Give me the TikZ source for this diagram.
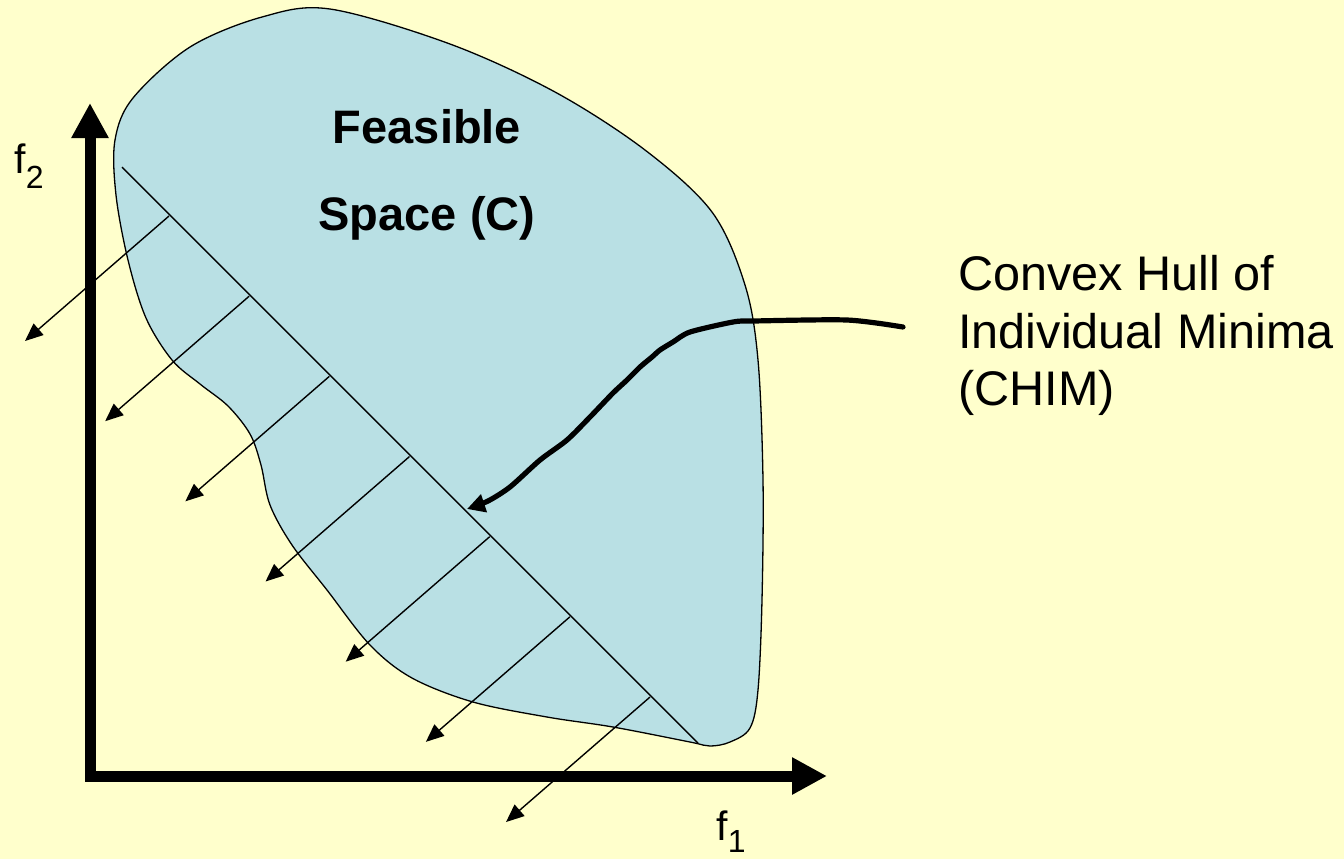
\documentclass[tikz,border=0pt]{standalone}
\usepackage{fontspec}
\setmainfont{Liberation Sans}
\usetikzlibrary{arrows.meta}
\definecolor{bgyellow}{RGB}{255,255,204}
\definecolor{blobblue}{RGB}{185,224,228}
\begin{document}
\begin{tikzpicture}[x=0.5pt,y=-0.5pt,
  axis/.style={line width=5.5pt, arrows={Triangle[length=17.5pt,width=17.5pt]-Triangle[length=17.5pt,width=17.5pt]}},
  normalarrow/.style={line width=0.7pt, arrows={-Triangle[length=9pt,width=7.5pt]}},
  hull/.style={line width=0.7pt},
  pointer/.style={line width=2.6pt, line join=round, line cap=round, arrows={-Triangle[length=9pt,width=9pt]}},
  bigtext/.style={font=\fontsize{24.3pt}{29pt}\selectfont, anchor=base west, inner sep=0pt},
  boldtext/.style={font=\fontsize{23.5pt}{28pt}\selectfont\bfseries, anchor=base, inner sep=0pt},
  axlabel/.style={font=\fontsize{20.5pt}{24pt}\selectfont, anchor=base west, inner sep=0pt}]
\fill[bgyellow] (0,0) rectangle (1344,859);
\useasboundingbox (0,0) rectangle (1344,859);
% feasible space
\filldraw[fill=blobblue, draw=black, line width=0.65pt]
  plot[smooth cycle, tension=0.55] coordinates {
  (330,9) (450,44) (555,92) (645,150) (712,212)
  (745,285) (758,360) (763,480) (762,600)
  (758,690) (750,728) (730,742) (710,746) (690,742) (613,727)
  (547,717) (473,702) (412,678) (370,645) (327,590) (292,545)
  (270,505) (261,465) (250,434) (228,406) (200,384) (172,360)
  (146,318) (128,260) (116,195) (115,140) (133,98)
  (190,47) (262,17)};
% CHIM line
\coordinate (hullA) at (122,167);
\coordinate (hullB) at (698,743);
\draw[hull] (hullA) -- (hullB);
% normal arrows
\foreach \k in {0,...,6}{
  \coordinate (foot\k) at ({169+80.17*\k},{216+80.17*\k});
  \draw[normalarrow] (foot\k) -- ++(-144,125);
}
% axes
\coordinate (ytop) at (90,103);
\coordinate (origin) at (90,776);
\coordinate (xend) at (827,776);
\draw[axis] (ytop) -- (origin) -- (xend);
% labels
\node[axlabel] (f2) at (14,173) {f\raisebox{-7.5pt}{\fontsize{16pt}{18pt}\selectfont 2}};
\node[axlabel] (f1) at (716,840) {f\raisebox{-6pt}{\fontsize{16pt}{18pt}\selectfont 1}};
\node[boldtext] (feas1) at (427,143) {Feasible};
\node[boldtext] (feas2) at (427,230) {Space (C)};
\node[bigtext] (chim1) at (958,290) {Convex Hull of};
\node[bigtext] (chim2) at (958,348) {Individual Minima};
\node[bigtext] (chim3) at (958,405) {(CHIM)};
% pointer
\coordinate (pstart) at (903,327);
\coordinate (ptip) at (467,509);
\draw[pointer] plot[smooth, tension=0.45] coordinates {
  (pstart) (847,320) (753,321) (733,322) (690,332) (673,342) (660,350)
  (652,357) (640,367) (627,380) (613,393) (590,417) (567,440) (540,460)
  (510,487) (488,501) (ptip)};
\end{tikzpicture}
\end{document}
